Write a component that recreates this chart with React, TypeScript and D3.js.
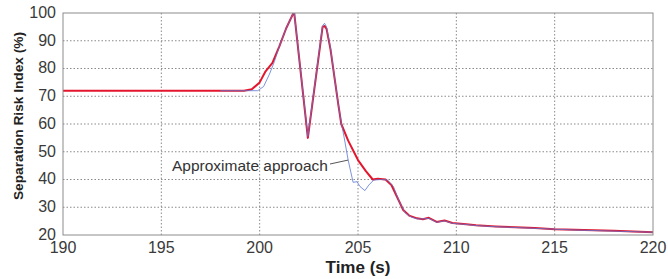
import React, { useRef, useEffect } from 'react';
import * as d3 from 'd3';

// red: exact separation risk index
const exactTime = [190, 199.2, 199.6, 200.0, 200.3, 200.65, 201.0, 201.35, 201.75, 202.45, 203.2, 203.3, 203.4, 203.6, 203.8, 204.0, 204.15, 204.5, 205.0, 205.4, 205.75, 206.0, 206.4, 206.7, 207.0, 207.3, 207.6, 208.0, 208.3, 208.6, 209.0, 209.4, 209.8, 210.5, 211, 212, 213, 214, 215, 216, 217, 218, 219, 220];
const exactRisk = [72, 72, 72.5, 75, 79, 82, 88, 94.5, 100.5, 55, 95, 95.3, 94.3, 87, 77, 67, 60, 54, 47, 43, 40, 40.3, 40, 38, 33.5, 29, 27, 26, 25.7, 26.2, 24.7, 25.2, 24.3, 23.9, 23.5, 23.1, 22.8, 22.5, 22.1, 21.9, 21.7, 21.5, 21.3, 21];

// blue: approximate approach
const approxTime = [198, 199.9, 200.2, 200.5, 200.75, 201.0, 201.35, 201.75, 202.45, 203.2, 203.3, 203.4, 203.6, 203.8, 204.0, 204.15, 204.3, 204.5, 204.75, 204.95, 205.1, 205.35, 205.55, 205.8, 206.2, 206.5, 206.8, 207.1, 207.4, 207.7, 208.0, 208.3, 208.6, 209.0, 209.4, 209.8, 210.5, 211, 212, 213, 214, 215, 216, 217, 218, 219, 220];
const approxRisk = [72, 72, 73.5, 78, 82.5, 88, 94.5, 100.5, 55.5, 95.5, 96.3, 95, 87.5, 77, 67, 60.5, 55, 47, 39, 39.2, 37.5, 36, 38, 39.8, 40, 39.8, 37.5, 32, 28, 26.5, 25.8, 25.8, 26, 24.6, 25.1, 24.2, 23.8, 23.4, 23, 22.7, 22.4, 22.1, 21.8, 21.6, 21.4, 21.2, 21];

const xTicks = [190, 195, 200, 205, 210, 215, 220];
const yTicks = [20, 30, 40, 50, 60, 70, 80, 90, 100];

const W = 668;
const H = 279;
const m = { left: 63, right: 15, top: 13, bottom: 44 };

const App: React.FC = () => {
  const svgRef = useRef<SVGSVGElement | null>(null);

  useEffect(() => {
    const svg = d3.select(svgRef.current);
    svg.selectAll('*').remove();

    const x = d3.scaleLinear().domain([190, 220]).range([m.left, W - m.right]);
    const y = d3.scaleLinear().domain([20, 100]).range([H - m.bottom, m.top]);

    svg.append('defs').append('clipPath').attr('id', 'plot')
      .append('rect')
      .attr('x', m.left).attr('y', m.top)
      .attr('width', W - m.left - m.right).attr('height', H - m.top - m.bottom);

    // grid
    svg.append('g').selectAll('line').data(yTicks.slice(1, -1)).enter().append('line')
      .attr('x1', m.left).attr('x2', W - m.right)
      .attr('y1', d => y(d)).attr('y2', d => y(d))
      .attr('stroke', '#8a8a8a').attr('stroke-dasharray', '1.5,2').attr('stroke-width', 1);
    svg.append('g').selectAll('line').data(xTicks.slice(1, -1)).enter().append('line')
      .attr('y1', m.top).attr('y2', H - m.bottom)
      .attr('x1', d => x(d)).attr('x2', d => x(d))
      .attr('stroke', '#8a8a8a').attr('stroke-dasharray', '1.5,2').attr('stroke-width', 1);

    const line = d3.line<[number, number]>().x(d => x(d[0])).y(d => y(d[1]));
    const exact = exactTime.map((t, i) => [t, exactRisk[i]] as [number, number]);
    const approx = approxTime.map((t, i) => [t, approxRisk[i]] as [number, number]);

    const plot = svg.append('g').attr('clip-path', 'url(#plot)');
    plot.append('path').datum(exact).attr('d', line)
      .attr('fill', 'none').attr('stroke', '#e3162e').attr('stroke-width', 2).attr('stroke-linejoin', 'round');
    plot.append('path').datum(approx).attr('d', line)
      .attr('fill', 'none').attr('stroke', '#5b78d6').attr('stroke-width', 1).attr('stroke-opacity', 0.8);

    // frame
    svg.append('rect')
      .attr('x', m.left).attr('y', m.top)
      .attr('width', W - m.left - m.right).attr('height', H - m.top - m.bottom)
      .attr('fill', 'none').attr('stroke', '#8c8c8c').attr('stroke-width', 1);

    // tick labels
    svg.append('g').selectAll('text').data(yTicks).enter().append('text')
      .attr('x', m.left - 7).attr('y', d => y(d) - 1).attr('dy', '0.36em')
      .attr('text-anchor', 'end')
      .attr('font-family', 'Liberation Sans, Arial, sans-serif').attr('font-size', 16).attr('fill', '#3a3a3a')
      .text(d => d);
    svg.append('g').selectAll('text').data(xTicks).enter().append('text')
      .attr('x', d => x(d)).attr('y', 253)
      .attr('text-anchor', 'middle')
      .attr('font-family', 'Liberation Sans, Arial, sans-serif').attr('font-size', 16).attr('fill', '#3a3a3a')
      .text(d => d);

    // axis titles
    svg.append('text')
      .attr('x', x(205)).attr('y', 273)
      .attr('text-anchor', 'middle')
      .attr('font-family', 'Liberation Sans, Arial, sans-serif').attr('font-size', 17).attr('font-weight', 'bold').attr('fill', '#222')
      .text('Time (s)');
    svg.append('text')
      .attr('transform', 'translate(22.5,116) rotate(-90)')
      .attr('text-anchor', 'middle')
      .attr('font-family', 'Liberation Sans, Arial, sans-serif').attr('font-size', 13.5).attr('font-weight', 'bold').attr('fill', '#222')
      .attr('textLength', 168).attr('lengthAdjust', 'spacingAndGlyphs')
      .text('Separation Risk Index (%)');

    // annotation
    svg.append('text')
      .attr('x', 172).attr('y', 171)
      .attr('font-family', 'Liberation Sans, Arial, sans-serif').attr('font-size', 14)
      .attr('textLength', 156).attr('lengthAdjust', 'spacingAndGlyphs').attr('fill', '#333')
      .text('Approximate approach');
    svg.append('line')
      .attr('x1', 330).attr('y1', 164).attr('x2', x(204.5)).attr('y2', y(47))
      .attr('stroke', '#555').attr('stroke-width', 1);
  }, []);

  return (
    <svg ref={svgRef} width={W} height={H}
      style={{ position: 'absolute', left: 0, top: 0, background: '#fff' }} />
  );
};

export default App;
